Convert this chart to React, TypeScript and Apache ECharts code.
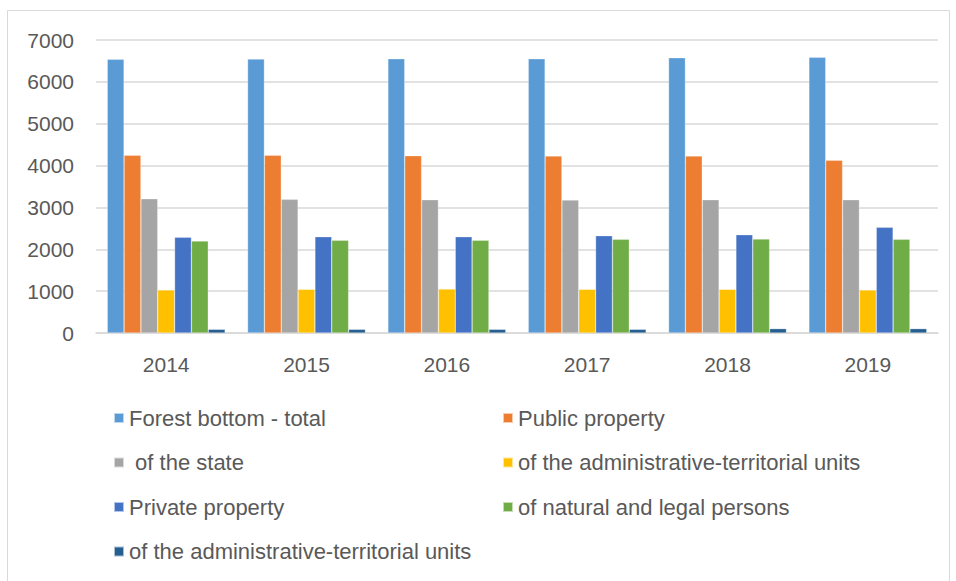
import React, { useEffect, useRef } from "react";
import * as echarts from "echarts";

const years = ["2014", "2015", "2016", "2017", "2018", "2019"];
const seriesNames = [
  "Forest bottom - total",
  "Public property",
  " of the state",
  "of the administrative-territorial units",
  "Private property",
  "of natural and legal persons",
  "of the administrative-territorial units ",
];
const forestTotal = [6538, 6545, 6553, 6553, 6577, 6586];
const publicProperty = [4245, 4245, 4236, 4228, 4228, 4125];
const ofTheState = [3208, 3193, 3185, 3177, 3185, 3185];
const ofAtuPublic = [1027, 1043, 1051, 1043, 1043, 1027];
const privateProperty = [2286, 2301, 2301, 2325, 2349, 2525];
const naturalLegal = [2198, 2215, 2215, 2238, 2245, 2238];
const ofAtuPrivate = [88, 88, 88, 88, 104, 104];
const yTicks = [0, 1000, 2000, 3000, 4000, 5000, 6000, 7000];

const colors = ["#5B9BD5", "#ED7D31", "#A5A5A5", "#FFC000", "#4472C4", "#70AD47", "#255E91"];
const values = [forestTotal, publicProperty, ofTheState, ofAtuPublic, privateProperty, naturalLegal, ofAtuPrivate];

export default function App() {
  const ref = useRef<HTMLDivElement>(null);
  useEffect(() => {
    if (!ref.current) return;
    const chart = echarts.init(ref.current, null, { renderer: "svg" });
    const font = "'Liberation Sans', 'DejaVu Sans', sans-serif";
    const legendText = { color: "#595959", fontSize: 22, lineHeight: 22, fontFamily: font };
    chart.setOption({
      animation: false,
      color: colors,
      textStyle: { fontFamily: font },
      graphic: [
        {
          type: "rect",
          shape: { x: 7.5, y: 10.5, width: 942, height: 580 },
          style: { fill: "none", stroke: "#D9D9D9", lineWidth: 1 },
          silent: true,
          z: -10,
        },
      ],
      grid: { left: 96, right: 18, top: 40, bottom: 248, containLabel: false },
      legend: [
        {
          data: [seriesNames[0], seriesNames[2], seriesNames[4], seriesNames[6]],
          orient: "vertical",
          left: 108,
          top: 402,
          itemWidth: 10,
          itemHeight: 10,
          itemGap: 22.5,
          icon: "rect",
          textStyle: legendText,
          selectedMode: false,
        },
        {
          data: [seriesNames[1], seriesNames[3], seriesNames[5]],
          orient: "vertical",
          left: 497,
          top: 402,
          itemWidth: 10,
          itemHeight: 10,
          itemGap: 22.5,
          icon: "rect",
          textStyle: legendText,
          selectedMode: false,
        },
      ],
      xAxis: {
        type: "category",
        data: years,
        axisLine: { lineStyle: { color: "#D9D9D9", width: 1.5 } },
        axisTick: { show: false },
        axisLabel: { color: "#595959", fontSize: 21, margin: 21, fontFamily: font },
      },
      yAxis: {
        type: "value",
        min: yTicks[0],
        max: yTicks[yTicks.length - 1],
        interval: 1000,
        axisLine: { show: false },
        axisTick: { show: false },
        axisLabel: {
          color: "#595959",
          fontSize: 21,
          margin: 22,
          fontFamily: font,
          formatter: (v: number) => String(v),
        },
        splitLine: { lineStyle: { color: "#D9D9D9", width: 1.5 } },
      },
      series: seriesNames.map((name, i) => ({
        name,
        type: "bar",
        data: values[i],
        barGap: "0%",
        barCategoryGap: "16%",
        itemStyle: { color: colors[i], borderColor: "rgba(255,255,255,0.6)", borderWidth: 0.5 },
      })),
    });
    return () => chart.dispose();
  }, []);
  return (
    <div
      ref={ref}
      style={{ position: "absolute", left: 0, top: 0, width: 956, height: 581, background: "#fff" }}
    />
  );
}
